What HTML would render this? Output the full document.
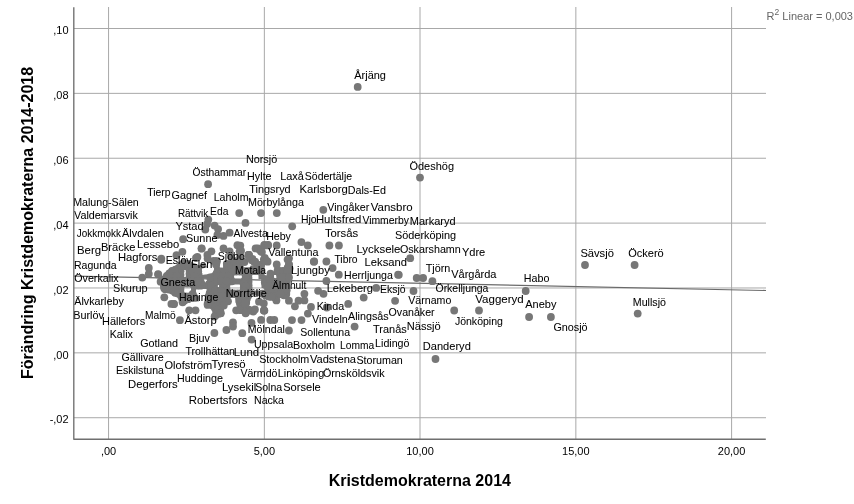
<!DOCTYPE html><html><head><meta charset="utf-8"><style>html,body{margin:0;padding:0;background:#fff;overflow:hidden}svg{display:block;will-change:transform}text{font-family:"Liberation Sans",Arial,sans-serif}</style></head><body>
<svg width="854" height="504" viewBox="0 0 854 504">
<rect width="854" height="504" fill="#fff"/>
<g stroke="#a8a8a8" stroke-width="1"><line x1="74" y1="28.5" x2="766" y2="28.5"/><line x1="74" y1="93.37" x2="766" y2="93.37"/><line x1="74" y1="158.24" x2="766" y2="158.24"/><line x1="74" y1="223.11" x2="766" y2="223.11"/><line x1="74" y1="287.98" x2="766" y2="287.98"/><line x1="74" y1="352.85" x2="766" y2="352.85"/><line x1="74" y1="417.72" x2="766" y2="417.72"/><line x1="108.57" y1="7" x2="108.57" y2="439"/><line x1="264.35" y1="7" x2="264.35" y2="439"/><line x1="420.0" y1="7" x2="420.0" y2="439"/><line x1="575.85" y1="7" x2="575.85" y2="439"/><line x1="731.6" y1="7" x2="731.6" y2="439"/></g>
<line x1="74" y1="276.1" x2="766" y2="290.5" stroke="#6a6a6a" stroke-width="1.1"/>
<g fill="#777777"><path fill-rule="evenodd" d="M161 279 L164 274 L168 270 L171 267.5 L176 266 L179 262.5 L182 259.5 L186 260 L189 262 L192 262.5 L195 264 L199 266 L203 263 L206 264 L207 267.5 L202 268.5 L201.5 271 L202 275 L205 274.5 L208 274.3 L212 274 L214 271 L214 265 L212 262 L212 259 L216 257.5 L219 258 L221 261 L219.8 262.5 L219.8 268.2 L223.6 268.2 L223.6 262.5 L225 261.3 L230 260.5 L232 261.5 L234 262.5 L236 261 L242.7 261 L242.7 267.8 L250.6 267.8 L250.6 265.5 L258 265.5 L262 266 L264 265.5 L264 274.5 L266 276 L270 275.5 L273.5 272 L275 268 L277 266.5 L280.5 268 L285.2 268 L285 264 L292 262 L293 268 L292.6 272.3 L289 276 L286.6 279.1 L289.5 281 L290 287 L290 292 L289 298 L284 299 L280 297 L278 300 L276 303 L272 299.5 L268 300 L265 299 L262 297 L258 296 L252 295 L250 300 L249 306 L245 308 L238 308 L236 303 L235.7 297.5 L226.2 297.5 L224 309 L222 316 L216 319 L212 316 L213 311 L210 307.5 L206.5 304.5 L204.8 300 L205.5 295 L207.5 289 L196 289 L196 294 L198.5 296 L198.8 301.5 L194 301 L190 302 L186 303.5 L183 305.5 L180 303 L178 297 L174 296 L170 293 L164 292.5 L162 291 L160.5 286 L160 282ZM183.8 269.3 L186.2 269.3 L186.2 277.6 L183.8 277.6ZM202.5 278.5 L208.5 278.5 L205.5 283.5ZM233.7 274.8 L242.3 274.8 L242.3 278.6 L233.7 278.6ZM217.3 284.6 L219.6 284.6 L219.6 287.6 L217.3 287.6ZM229.8 284.6 L240.5 284.6 L240.5 290 L229.8 290ZM183.8 286.8 L191 286.8 L191 293 L183.8 293ZM251.8 274.3 L258.5 274.3 L258.5 279 L261.5 279 L261.5 288 L265 288.2 L265 290.4 L252 290.4ZM274 275 L277 275 L277 278.7 L274 278.7Z"/><circle cx="163.4" cy="282.3" r="3.9"/><circle cx="163.9" cy="285.9" r="3.9"/><circle cx="165.2" cy="289.3" r="3.9"/><circle cx="168.8" cy="289.6" r="3.9"/><circle cx="172.3" cy="290.6" r="3.9"/><circle cx="175.2" cy="292.8" r="3.9"/><circle cx="178.7" cy="293.8" r="3.9"/><circle cx="181.2" cy="296.2" r="3.9"/><circle cx="182.4" cy="299.6" r="3.9"/><circle cx="184.6" cy="300.5" r="3.9"/><circle cx="188.0" cy="299.2" r="3.9"/><circle cx="191.6" cy="298.2" r="3.9"/><circle cx="195.1" cy="297.8" r="3.9"/><circle cx="192.9" cy="295.7" r="3.9"/><circle cx="189.3" cy="296.3" r="3.9"/><circle cx="185.7" cy="296.3" r="3.9"/><circle cx="182.1" cy="295.8" r="3.9"/><circle cx="180.5" cy="292.7" r="3.9"/><circle cx="180.5" cy="289.1" r="3.9"/><circle cx="180.8" cy="285.5" r="3.9"/><circle cx="183.6" cy="283.5" r="3.9"/><circle cx="187.3" cy="283.5" r="3.9"/><circle cx="190.9" cy="283.5" r="3.9"/><circle cx="193.9" cy="285.3" r="3.9"/><circle cx="196.8" cy="285.7" r="3.9"/><circle cx="200.5" cy="285.7" r="3.9"/><circle cx="202.4" cy="284.8" r="3.9"/><circle cx="200.6" cy="281.7" r="3.9"/><circle cx="199.2" cy="278.3" r="3.9"/><circle cx="198.7" cy="274.9" r="3.9"/><circle cx="198.2" cy="271.3" r="3.9"/><circle cx="197.0" cy="268.7" r="3.9"/><circle cx="193.7" cy="267.1" r="3.9"/><circle cx="190.4" cy="265.6" r="3.9"/><circle cx="186.9" cy="264.6" r="3.9"/><circle cx="183.7" cy="263.0" r="3.9"/><circle cx="181.0" cy="265.2" r="3.9"/><circle cx="178.6" cy="268.0" r="3.9"/><circle cx="175.4" cy="269.6" r="3.9"/><circle cx="172.1" cy="270.9" r="3.9"/><circle cx="169.3" cy="273.3" r="3.9"/><circle cx="166.8" cy="275.9" r="3.9"/><circle cx="164.8" cy="279.0" r="3.9"/><circle cx="189.5" cy="277.6" r="3.9"/><circle cx="187.5" cy="280.6" r="3.9"/><circle cx="183.7" cy="280.9" r="3.9"/><circle cx="180.7" cy="278.8" r="3.9"/><circle cx="180.5" cy="275.0" r="3.9"/><circle cx="180.5" cy="271.2" r="3.9"/><circle cx="181.0" cy="267.5" r="3.9"/><circle cx="184.4" cy="266.0" r="3.9"/><circle cx="188.1" cy="266.6" r="3.9"/><circle cx="189.5" cy="269.9" r="3.9"/><circle cx="189.5" cy="273.8" r="3.9"/><circle cx="211.6" cy="277.3" r="3.9"/><circle cx="211.0" cy="280.8" r="3.9"/><circle cx="209.1" cy="283.9" r="3.9"/><circle cx="209.3" cy="286.2" r="3.9"/><circle cx="210.8" cy="289.3" r="3.9"/><circle cx="209.7" cy="292.8" r="3.9"/><circle cx="208.6" cy="296.3" r="3.9"/><circle cx="208.3" cy="299.9" r="3.9"/><circle cx="209.9" cy="303.1" r="3.9"/><circle cx="212.6" cy="305.5" r="3.9"/><circle cx="215.0" cy="308.3" r="3.9"/><circle cx="216.3" cy="311.5" r="3.9"/><circle cx="216.0" cy="314.9" r="3.9"/><circle cx="219.2" cy="313.7" r="3.9"/><circle cx="220.2" cy="310.2" r="3.9"/><circle cx="221.1" cy="306.6" r="3.9"/><circle cx="221.8" cy="303.1" r="3.9"/><circle cx="222.5" cy="299.5" r="3.9"/><circle cx="223.3" cy="295.9" r="3.9"/><circle cx="226.3" cy="294.2" r="3.9"/><circle cx="229.9" cy="294.2" r="3.9"/><circle cx="233.6" cy="294.2" r="3.9"/><circle cx="237.2" cy="294.5" r="3.9"/><circle cx="239.0" cy="297.5" r="3.9"/><circle cx="239.2" cy="301.1" r="3.9"/><circle cx="240.2" cy="304.6" r="3.9"/><circle cx="243.7" cy="304.7" r="3.9"/><circle cx="246.2" cy="302.7" r="3.9"/><circle cx="246.8" cy="299.1" r="3.9"/><circle cx="248.2" cy="295.7" r="3.9"/><circle cx="249.4" cy="292.5" r="3.9"/><circle cx="248.7" cy="289.0" r="3.9"/><circle cx="248.6" cy="285.4" r="3.9"/><circle cx="248.6" cy="281.7" r="3.9"/><circle cx="248.5" cy="278.1" r="3.9"/><circle cx="248.5" cy="274.5" r="3.9"/><circle cx="250.2" cy="271.4" r="3.9"/><circle cx="253.7" cy="271.0" r="3.9"/><circle cx="257.4" cy="271.0" r="3.9"/><circle cx="260.7" cy="271.7" r="3.9"/><circle cx="259.6" cy="269.0" r="3.9"/><circle cx="256.0" cy="268.8" r="3.9"/><circle cx="253.1" cy="270.0" r="3.9"/><circle cx="249.7" cy="271.1" r="3.9"/><circle cx="246.1" cy="271.1" r="3.9"/><circle cx="242.5" cy="271.1" r="3.9"/><circle cx="239.7" cy="269.1" r="3.9"/><circle cx="239.4" cy="265.5" r="3.9"/><circle cx="237.0" cy="264.4" r="3.9"/><circle cx="233.7" cy="265.8" r="3.9"/><circle cx="230.4" cy="264.4" r="3.9"/><circle cx="226.9" cy="264.4" r="3.9"/><circle cx="226.9" cy="268.0" r="3.9"/><circle cx="225.2" cy="271.1" r="3.9"/><circle cx="221.7" cy="271.5" r="3.9"/><circle cx="218.1" cy="271.0" r="3.9"/><circle cx="216.8" cy="272.8" r="3.9"/><circle cx="214.7" cy="275.8" r="3.9"/><circle cx="231.8" cy="281.3" r="3.9"/><circle cx="230.4" cy="278.1" r="3.9"/><circle cx="230.4" cy="274.4" r="3.9"/><circle cx="232.6" cy="271.7" r="3.9"/><circle cx="236.2" cy="271.5" r="3.9"/><circle cx="239.9" cy="271.5" r="3.9"/><circle cx="243.5" cy="271.7" r="3.9"/><circle cx="245.6" cy="274.6" r="3.9"/><circle cx="245.6" cy="278.2" r="3.9"/><circle cx="244.1" cy="281.4" r="3.9"/><circle cx="243.5" cy="283.3" r="3.9"/><circle cx="243.8" cy="287.0" r="3.9"/><circle cx="243.7" cy="290.6" r="3.9"/><circle cx="241.4" cy="293.2" r="3.9"/><circle cx="237.7" cy="293.3" r="3.9"/><circle cx="234.0" cy="293.3" r="3.9"/><circle cx="230.4" cy="293.3" r="3.9"/><circle cx="227.1" cy="291.9" r="3.9"/><circle cx="226.5" cy="288.4" r="3.9"/><circle cx="226.5" cy="284.7" r="3.9"/><circle cx="228.2" cy="281.7" r="3.9"/><circle cx="222.9" cy="287.6" r="3.9"/><circle cx="220.8" cy="290.7" r="3.9"/><circle cx="217.0" cy="290.9" r="3.9"/><circle cx="214.1" cy="288.5" r="3.9"/><circle cx="214.0" cy="284.6" r="3.9"/><circle cx="216.1" cy="281.5" r="3.9"/><circle cx="219.9" cy="281.3" r="3.9"/><circle cx="222.8" cy="283.7" r="3.9"/><circle cx="216.5" cy="262.8" r="3.9"/><circle cx="216.8" cy="261.1" r="3.9"/><circle cx="215.5" cy="261.3" r="3.9"/><circle cx="262.4" cy="293.7" r="3.9"/><circle cx="265.6" cy="295.4" r="3.9"/><circle cx="268.9" cy="296.6" r="3.9"/><circle cx="272.5" cy="296.2" r="3.9"/><circle cx="275.4" cy="297.9" r="3.9"/><circle cx="277.4" cy="294.9" r="3.9"/><circle cx="280.7" cy="293.8" r="3.9"/><circle cx="283.9" cy="295.3" r="3.9"/><circle cx="286.3" cy="293.9" r="3.9"/><circle cx="286.7" cy="290.3" r="3.9"/><circle cx="286.7" cy="286.7" r="3.9"/><circle cx="286.4" cy="283.1" r="3.9"/><circle cx="283.8" cy="280.8" r="3.9"/><circle cx="283.8" cy="277.3" r="3.9"/><circle cx="286.0" cy="274.5" r="3.9"/><circle cx="288.4" cy="271.8" r="3.9"/><circle cx="289.6" cy="268.6" r="3.9"/><circle cx="288.4" cy="266.6" r="3.9"/><circle cx="287.8" cy="270.1" r="3.9"/><circle cx="284.5" cy="271.3" r="3.9"/><circle cx="280.9" cy="271.3" r="3.9"/><circle cx="277.6" cy="270.5" r="3.9"/><circle cx="279.2" cy="272.6" r="3.9"/><circle cx="280.3" cy="275.9" r="3.9"/><circle cx="280.2" cy="279.5" r="3.9"/><circle cx="277.8" cy="281.9" r="3.9"/><circle cx="274.2" cy="282.0" r="3.9"/><circle cx="271.2" cy="280.4" r="3.9"/><circle cx="268.8" cy="279.0" r="3.9"/><circle cx="265.3" cy="279.2" r="3.9"/><circle cx="264.8" cy="282.2" r="3.9"/><circle cx="265.7" cy="285.0" r="3.9"/><circle cx="268.2" cy="287.4" r="3.9"/><circle cx="268.2" cy="291.0" r="3.9"/><circle cx="266.0" cy="293.5" r="3.9"/><circle cx="182.4" cy="265.9" r="3.9"/><circle cx="188.2" cy="265.9" r="3.9"/><circle cx="228.5" cy="265.9" r="3.9"/><circle cx="234.3" cy="265.9" r="3.9"/><circle cx="174.9" cy="271.0" r="3.9"/><circle cx="192.2" cy="271.0" r="3.9"/><circle cx="197.9" cy="271.0" r="3.9"/><circle cx="226.7" cy="271.0" r="3.9"/><circle cx="232.5" cy="271.0" r="3.9"/><circle cx="238.2" cy="271.0" r="3.9"/><circle cx="255.5" cy="271.0" r="3.9"/><circle cx="278.6" cy="271.0" r="3.9"/><circle cx="170.9" cy="276.0" r="3.9"/><circle cx="176.7" cy="276.0" r="3.9"/><circle cx="194.0" cy="276.0" r="3.9"/><circle cx="217.0" cy="276.0" r="3.9"/><circle cx="222.8" cy="276.0" r="3.9"/><circle cx="228.5" cy="276.0" r="3.9"/><circle cx="245.8" cy="276.0" r="3.9"/><circle cx="280.4" cy="276.0" r="3.9"/><circle cx="169.1" cy="281.1" r="3.9"/><circle cx="174.9" cy="281.1" r="3.9"/><circle cx="180.6" cy="281.1" r="3.9"/><circle cx="186.4" cy="281.1" r="3.9"/><circle cx="192.2" cy="281.1" r="3.9"/><circle cx="197.9" cy="281.1" r="3.9"/><circle cx="215.2" cy="281.1" r="3.9"/><circle cx="221.0" cy="281.1" r="3.9"/><circle cx="226.7" cy="281.1" r="3.9"/><circle cx="267.0" cy="281.1" r="3.9"/><circle cx="165.2" cy="286.1" r="3.9"/><circle cx="170.9" cy="286.1" r="3.9"/><circle cx="176.7" cy="286.1" r="3.9"/><circle cx="211.2" cy="286.1" r="3.9"/><circle cx="245.8" cy="286.1" r="3.9"/><circle cx="268.8" cy="286.1" r="3.9"/><circle cx="274.6" cy="286.1" r="3.9"/><circle cx="280.4" cy="286.1" r="3.9"/><circle cx="286.1" cy="286.1" r="3.9"/><circle cx="174.9" cy="291.1" r="3.9"/><circle cx="215.2" cy="291.1" r="3.9"/><circle cx="221.0" cy="291.1" r="3.9"/><circle cx="244.0" cy="291.1" r="3.9"/><circle cx="272.8" cy="291.1" r="3.9"/><circle cx="278.6" cy="291.1" r="3.9"/><circle cx="284.3" cy="291.1" r="3.9"/><circle cx="182.4" cy="296.2" r="3.9"/><circle cx="211.2" cy="296.2" r="3.9"/><circle cx="217.0" cy="296.2" r="3.9"/><circle cx="222.8" cy="296.2" r="3.9"/><circle cx="240.0" cy="296.2" r="3.9"/><circle cx="245.8" cy="296.2" r="3.9"/><circle cx="268.8" cy="296.2" r="3.9"/><circle cx="274.6" cy="296.2" r="3.9"/><circle cx="209.4" cy="301.2" r="3.9"/><circle cx="215.2" cy="301.2" r="3.9"/><circle cx="221.0" cy="301.2" r="3.9"/><circle cx="244.0" cy="301.2" r="3.9"/><circle cx="217.0" cy="306.3" r="3.9"/><circle cx="357.7" cy="86.9" r="3.9"/><circle cx="420.0" cy="177.6" r="3.9"/><circle cx="208.1" cy="184.2" r="3.9"/><circle cx="239.2" cy="213.1" r="3.9"/><circle cx="261.0" cy="213.1" r="3.9"/><circle cx="276.8" cy="213.1" r="3.9"/><circle cx="323.3" cy="209.8" r="3.9"/><circle cx="245.5" cy="222.9" r="3.9"/><circle cx="292.2" cy="226.3" r="3.9"/><circle cx="410.2" cy="258.2" r="3.9"/><circle cx="398.1" cy="274.7" r="3.9"/><circle cx="416.7" cy="278.0" r="3.9"/><circle cx="423.1" cy="278.0" r="3.9"/><circle cx="432.4" cy="281.2" r="3.9"/><circle cx="413.5" cy="291.0" r="3.9"/><circle cx="395.1" cy="300.8" r="3.9"/><circle cx="454.2" cy="310.5" r="3.9"/><circle cx="479.0" cy="310.5" r="3.9"/><circle cx="525.7" cy="291.0" r="3.9"/><circle cx="529.1" cy="317.0" r="3.9"/><circle cx="550.9" cy="317.0" r="3.9"/><circle cx="585.0" cy="265.0" r="3.9"/><circle cx="634.6" cy="265.0" r="3.9"/><circle cx="637.7" cy="313.6" r="3.9"/><circle cx="435.5" cy="359.0" r="3.9"/><circle cx="354.6" cy="326.6" r="3.9"/><circle cx="363.7" cy="297.6" r="3.9"/><circle cx="348.2" cy="303.9" r="3.9"/><circle cx="376.2" cy="287.9" r="3.9"/><circle cx="338.8" cy="274.7" r="3.9"/><circle cx="326.4" cy="281.0" r="3.9"/><circle cx="398.8" cy="274.8" r="3.9"/><circle cx="329.4" cy="245.5" r="3.9"/><circle cx="338.9" cy="245.5" r="3.9"/><circle cx="314.2" cy="261.5" r="3.9"/><circle cx="326.4" cy="261.5" r="3.9"/><circle cx="332.6" cy="268.1" r="3.9"/><circle cx="301.4" cy="242.1" r="3.9"/><circle cx="307.8" cy="245.5" r="3.9"/><circle cx="276.7" cy="245.5" r="3.9"/><circle cx="313.8" cy="261.7" r="3.9"/><circle cx="289.0" cy="258.3" r="3.9"/><circle cx="289.0" cy="265.0" r="3.9"/><circle cx="276.7" cy="264.5" r="3.9"/><circle cx="161.3" cy="258.6" r="3.9"/><circle cx="148.8" cy="267.9" r="3.9"/><circle cx="148.8" cy="273.8" r="3.9"/><circle cx="142.3" cy="277.6" r="3.9"/><circle cx="158.1" cy="274.1" r="3.9"/><circle cx="162.3" cy="279.8" r="3.9"/><circle cx="164.3" cy="297.3" r="3.9"/><circle cx="171.4" cy="303.9" r="3.9"/><circle cx="183.1" cy="239.2" r="3.9"/><circle cx="182.4" cy="251.8" r="3.9"/><circle cx="176.5" cy="255.2" r="3.9"/><circle cx="201.5" cy="248.6" r="3.9"/><circle cx="179.9" cy="320.2" r="3.9"/><circle cx="189.2" cy="310.3" r="3.9"/><circle cx="195.5" cy="310.3" r="3.9"/><circle cx="214.4" cy="333.0" r="3.9"/><circle cx="226.4" cy="330.0" r="3.9"/><circle cx="233.0" cy="322.5" r="3.9"/><circle cx="233.0" cy="326.5" r="3.9"/><circle cx="242.3" cy="333.2" r="3.9"/><circle cx="251.6" cy="339.6" r="3.9"/><circle cx="251.5" cy="322.9" r="3.9"/><circle cx="261.1" cy="319.9" r="3.9"/><circle cx="236.2" cy="310.3" r="3.9"/><circle cx="245.6" cy="313.3" r="3.9"/><circle cx="253.3" cy="311.5" r="3.9"/><circle cx="264.0" cy="310.4" r="3.9"/><circle cx="214.6" cy="316.5" r="3.9"/><circle cx="220.5" cy="313.2" r="3.9"/><circle cx="173.9" cy="304.1" r="3.9"/><circle cx="182.9" cy="301.2" r="3.9"/><circle cx="288.9" cy="330.5" r="3.9"/><circle cx="270.3" cy="320.0" r="3.9"/><circle cx="274.3" cy="320.0" r="3.9"/><circle cx="292.0" cy="320.1" r="3.9"/><circle cx="301.5" cy="320.1" r="3.9"/><circle cx="307.9" cy="313.6" r="3.9"/><circle cx="304.4" cy="293.8" r="3.9"/><circle cx="318.1" cy="290.8" r="3.9"/><circle cx="323.5" cy="293.8" r="3.9"/><circle cx="288.9" cy="300.7" r="3.9"/><circle cx="298.5" cy="300.7" r="3.9"/><circle cx="304.4" cy="300.4" r="3.9"/><circle cx="311.0" cy="306.9" r="3.9"/><circle cx="294.9" cy="306.3" r="3.9"/><circle cx="263.9" cy="310.5" r="3.9"/><circle cx="276.4" cy="300.4" r="3.9"/><circle cx="270.5" cy="273.6" r="3.9"/><circle cx="326.8" cy="307.5" r="3.9"/><circle cx="207.1" cy="224.1" r="3.9"/><circle cx="205.3" cy="229.5" r="3.9"/><circle cx="214.6" cy="225.6" r="3.9"/><circle cx="218.1" cy="229.1" r="3.9"/><circle cx="217.4" cy="234.9" r="3.9"/><circle cx="223.5" cy="235.9" r="3.9"/><circle cx="229.6" cy="232.7" r="3.9"/><circle cx="201.7" cy="248.4" r="3.9"/><circle cx="211.4" cy="251.3" r="3.9"/><circle cx="207.4" cy="254.9" r="3.9"/><circle cx="223.5" cy="248.4" r="3.9"/><circle cx="229.6" cy="251.3" r="3.9"/><circle cx="237.4" cy="245.2" r="3.9"/><circle cx="240.3" cy="245.6" r="3.9"/><circle cx="239.6" cy="251.3" r="3.9"/><circle cx="248.9" cy="254.9" r="3.9"/><circle cx="255.6" cy="248.4" r="3.9"/><circle cx="197.4" cy="257.0" r="3.9"/><circle cx="208.3" cy="219.6" r="3.9"/><circle cx="264.3" cy="245.5" r="3.9"/><circle cx="268.1" cy="245.0" r="3.9"/><circle cx="258.1" cy="248.8" r="3.9"/><circle cx="261.9" cy="252.1" r="3.9"/><circle cx="249.0" cy="255.0" r="3.9"/><circle cx="252.4" cy="258.8" r="3.9"/><circle cx="255.2" cy="261.7" r="3.9"/><circle cx="264.8" cy="257.9" r="3.9"/><circle cx="267.6" cy="261.7" r="3.9"/><circle cx="261.0" cy="265.0" r="3.9"/><circle cx="241.0" cy="250.7" r="3.9"/><circle cx="161.2" cy="259.8" r="3.9"/><circle cx="160.6" cy="281.7" r="3.9"/><circle cx="158.3" cy="274.6" r="3.9"/><circle cx="163" cy="281" r="3.9"/><circle cx="183.5" cy="264" r="3.9"/><circle cx="188" cy="264" r="3.9"/><circle cx="196" cy="258" r="3.9"/><circle cx="207.6" cy="258.5" r="3.9"/><circle cx="210.1" cy="277.5" r="3.9"/><circle cx="213.7" cy="260.8" r="3.9"/><circle cx="216" cy="264.5" r="3.9"/><circle cx="227.6" cy="266" r="3.9"/><circle cx="226.8" cy="263.8" r="3.9"/><circle cx="231" cy="265" r="3.9"/><circle cx="231" cy="257" r="3.9"/><circle cx="234" cy="261" r="3.9"/><circle cx="236" cy="266" r="3.9"/><circle cx="240" cy="257" r="3.9"/><circle cx="240" cy="262.5" r="3.9"/><circle cx="240" cy="268" r="3.9"/><circle cx="244.5" cy="262" r="3.9"/><circle cx="248.3" cy="254.9" r="3.9"/><circle cx="250.1" cy="257.9" r="3.9"/><circle cx="251.9" cy="260.2" r="3.9"/><circle cx="254.3" cy="262" r="3.9"/><circle cx="257.9" cy="248.3" r="3.9"/><circle cx="260.8" cy="251.3" r="3.9"/><circle cx="264.4" cy="244.8" r="3.9"/><circle cx="268" cy="245.4" r="3.9"/><circle cx="260.8" cy="265" r="3.9"/><circle cx="263.8" cy="259.6" r="3.9"/><circle cx="266.8" cy="260.8" r="3.9"/><circle cx="287.6" cy="259.6" r="3.9"/><circle cx="287.6" cy="268" r="3.9"/><circle cx="288.9" cy="264.3" r="3.9"/><circle cx="283" cy="270.8" r="3.9"/><circle cx="287.7" cy="271.4" r="3.9"/><circle cx="282.4" cy="276.8" r="3.9"/><circle cx="289" cy="277.4" r="3.9"/><circle cx="192.7" cy="293.9" r="3.9"/><circle cx="192.8" cy="295.5" r="3.9"/><circle cx="207.6" cy="304" r="3.9"/><circle cx="207.7" cy="304.9" r="3.9"/><circle cx="228" cy="301.3" r="3.9"/><circle cx="223.8" cy="305.5" r="3.9"/><circle cx="217.9" cy="309.6" r="3.9"/><circle cx="220.8" cy="313.2" r="3.9"/><circle cx="240.5" cy="299.5" r="3.9"/><circle cx="245.2" cy="304.3" r="3.9"/><circle cx="240.5" cy="310.2" r="3.9"/><circle cx="248.8" cy="309.6" r="3.9"/><circle cx="241.8" cy="309.4" r="3.9"/><circle cx="246" cy="312.4" r="3.9"/><circle cx="251.3" cy="310.6" r="3.9"/><circle cx="254.9" cy="309.4" r="3.9"/><circle cx="244.8" cy="303.5" r="3.9"/><circle cx="259" cy="301.7" r="3.9"/><circle cx="263.8" cy="303.5" r="3.9"/><circle cx="264.4" cy="310.6" r="3.9"/><circle cx="271.5" cy="296.9" r="3.9"/><circle cx="280.5" cy="294" r="3.9"/><circle cx="164.2" cy="288.3" r="3.9"/><circle cx="169.5" cy="288.6" r="3.9"/><circle cx="177.9" cy="293.3" r="3.9"/><circle cx="174" cy="304" r="3.9"/><circle cx="182.6" cy="302.3" r="3.9"/></g>
<g font-size="11" fill="#000" stroke="#000" stroke-width="0.05"><text x="354.3" y="78.9" textLength="31.6" lengthAdjust="spacingAndGlyphs">Årjäng</text><text x="409.5" y="169.5" textLength="44.5" lengthAdjust="spacingAndGlyphs">Ödeshög</text><text x="245.9" y="162.6" textLength="31.3" lengthAdjust="spacingAndGlyphs">Norsjö</text><text x="192.6" y="175.7" textLength="53.6" lengthAdjust="spacingAndGlyphs">Östhammar</text><text x="247.1" y="179.5" textLength="24.5" lengthAdjust="spacingAndGlyphs">Hylte</text><text x="280.2" y="179.5" textLength="23.7" lengthAdjust="spacingAndGlyphs">Laxå</text><text x="304.8" y="179.5" textLength="47.3" lengthAdjust="spacingAndGlyphs">Södertälje</text><text x="147.2" y="195.7" textLength="23.4" lengthAdjust="spacingAndGlyphs">Tierp</text><text x="171.5" y="198.7" textLength="35.4" lengthAdjust="spacingAndGlyphs">Gagnef</text><text x="213.7" y="200.5" textLength="34.8" lengthAdjust="spacingAndGlyphs">Laholm</text><text x="249.3" y="193.2" textLength="41.4" lengthAdjust="spacingAndGlyphs">Tingsryd</text><text x="299.5" y="193.2" textLength="48.3" lengthAdjust="spacingAndGlyphs">Karlsborg</text><text x="347.7" y="194.3" textLength="38.2" lengthAdjust="spacingAndGlyphs">Dals-Ed</text><text x="73.2" y="205.6" textLength="65.6" lengthAdjust="spacingAndGlyphs">Malung-Sälen</text><text x="248.0" y="206.4" textLength="55.9" lengthAdjust="spacingAndGlyphs">Mörbylånga</text><text x="327.3" y="210.6" textLength="41.9" lengthAdjust="spacingAndGlyphs">Vingåker</text><text x="370.8" y="210.6" textLength="41.8" lengthAdjust="spacingAndGlyphs">Vansbro</text><text x="74.1" y="218.7" textLength="63.8" lengthAdjust="spacingAndGlyphs">Valdemarsvik</text><text x="177.9" y="216.5" textLength="30.2" lengthAdjust="spacingAndGlyphs">Rättvik</text><text x="210.1" y="214.5" textLength="18.3" lengthAdjust="spacingAndGlyphs">Eda</text><text x="300.9" y="222.9" textLength="15.7" lengthAdjust="spacingAndGlyphs">Hjo</text><text x="315.9" y="222.9" textLength="45.5" lengthAdjust="spacingAndGlyphs">Hultsfred</text><text x="362.4" y="224.0" textLength="46.6" lengthAdjust="spacingAndGlyphs">Vimmerby</text><text x="409.8" y="225.2" textLength="45.8" lengthAdjust="spacingAndGlyphs">Markaryd</text><text x="175.4" y="229.5" textLength="28.2" lengthAdjust="spacingAndGlyphs">Ystad</text><text x="233.4" y="237.4" textLength="34.4" lengthAdjust="spacingAndGlyphs">Alvesta</text><text x="266.2" y="240.4" textLength="24.7" lengthAdjust="spacingAndGlyphs">Heby</text><text x="324.9" y="237.4" textLength="33.3" lengthAdjust="spacingAndGlyphs">Torsås</text><text x="395.0" y="239.2" textLength="61.1" lengthAdjust="spacingAndGlyphs">Söderköping</text><text x="76.8" y="236.5" textLength="44.1" lengthAdjust="spacingAndGlyphs">Jokkmokk</text><text x="122.1" y="236.5" textLength="41.7" lengthAdjust="spacingAndGlyphs">Älvdalen</text><text x="186.1" y="242.3" textLength="31.4" lengthAdjust="spacingAndGlyphs">Sunne</text><text x="356.4" y="252.6" textLength="44.0" lengthAdjust="spacingAndGlyphs">Lycksele</text><text x="399.9" y="252.5" textLength="60.9" lengthAdjust="spacingAndGlyphs">Oskarshamn</text><text x="461.9" y="256.3" textLength="23.4" lengthAdjust="spacingAndGlyphs">Ydre</text><text x="77.0" y="254.2" textLength="24.1" lengthAdjust="spacingAndGlyphs">Berg</text><text x="100.9" y="250.6" textLength="34.6" lengthAdjust="spacingAndGlyphs">Bräcke</text><text x="137.1" y="248.2" textLength="42.2" lengthAdjust="spacingAndGlyphs">Lessebo</text><text x="268.3" y="255.5" textLength="50.1" lengthAdjust="spacingAndGlyphs">Vallentuna</text><text x="334.4" y="262.7" textLength="23.2" lengthAdjust="spacingAndGlyphs">Tibro</text><text x="364.6" y="265.6" textLength="42.4" lengthAdjust="spacingAndGlyphs">Leksand</text><text x="117.9" y="261.1" textLength="39.5" lengthAdjust="spacingAndGlyphs">Hagfors</text><text x="165.7" y="264.3" textLength="26.0" lengthAdjust="spacingAndGlyphs">Eslöv</text><text x="217.8" y="259.5" textLength="27.0" lengthAdjust="spacingAndGlyphs">Sjöbo</text><text x="74.0" y="268.5" textLength="42.7" lengthAdjust="spacingAndGlyphs">Ragunda</text><text x="191.0" y="267.9" textLength="21.3" lengthAdjust="spacingAndGlyphs">Flen</text><text x="235.0" y="274.2" textLength="31.1" lengthAdjust="spacingAndGlyphs">Motala</text><text x="290.9" y="273.5" textLength="38.8" lengthAdjust="spacingAndGlyphs">Ljungby</text><text x="344.0" y="278.8" textLength="48.9" lengthAdjust="spacingAndGlyphs">Herrljunga</text><text x="425.7" y="271.7" textLength="24.6" lengthAdjust="spacingAndGlyphs">Tjörn</text><text x="451.2" y="277.5" textLength="45.3" lengthAdjust="spacingAndGlyphs">Vårgårda</text><text x="74.3" y="281.7" textLength="44.4" lengthAdjust="spacingAndGlyphs">Överkalix</text><text x="160.5" y="285.5" textLength="34.7" lengthAdjust="spacingAndGlyphs">Gnesta</text><text x="272.3" y="288.5" textLength="34.1" lengthAdjust="spacingAndGlyphs">Älmhult</text><text x="326.7" y="292.0" textLength="46.3" lengthAdjust="spacingAndGlyphs">Lekeberg</text><text x="380.0" y="292.5" textLength="25.5" lengthAdjust="spacingAndGlyphs">Eksjö</text><text x="435.5" y="291.7" textLength="52.9" lengthAdjust="spacingAndGlyphs">Örkelljunga</text><text x="523.8" y="282.4" textLength="25.6" lengthAdjust="spacingAndGlyphs">Habo</text><text x="113.1" y="292.0" textLength="34.6" lengthAdjust="spacingAndGlyphs">Skurup</text><text x="225.7" y="296.8" textLength="41.0" lengthAdjust="spacingAndGlyphs">Norrtälje</text><text x="178.9" y="301.2" textLength="39.4" lengthAdjust="spacingAndGlyphs">Haninge</text><text x="408.3" y="304.2" textLength="43.0" lengthAdjust="spacingAndGlyphs">Värnamo</text><text x="525.3" y="307.7" textLength="31.1" lengthAdjust="spacingAndGlyphs">Aneby</text><text x="632.8" y="306.1" textLength="33.2" lengthAdjust="spacingAndGlyphs">Mullsjö</text><text x="580.4" y="257.0" textLength="33.5" lengthAdjust="spacingAndGlyphs">Sävsjö</text><text x="628.2" y="257.0" textLength="35.5" lengthAdjust="spacingAndGlyphs">Öckerö</text><text x="74.3" y="304.5" textLength="49.5" lengthAdjust="spacingAndGlyphs">Älvkarleby</text><text x="316.8" y="310.2" textLength="27.4" lengthAdjust="spacingAndGlyphs">Kinda</text><text x="388.6" y="316.1" textLength="46.0" lengthAdjust="spacingAndGlyphs">Ovanåker</text><text x="475.3" y="303.0" textLength="48.4" lengthAdjust="spacingAndGlyphs">Vaggeryd</text><text x="73.2" y="318.8" textLength="30.7" lengthAdjust="spacingAndGlyphs">Burlöv</text><text x="145.1" y="319.2" textLength="30.7" lengthAdjust="spacingAndGlyphs">Malmö</text><text x="184.4" y="324.2" textLength="32.4" lengthAdjust="spacingAndGlyphs">Åstorp</text><text x="102.0" y="324.8" textLength="43.2" lengthAdjust="spacingAndGlyphs">Hällefors</text><text x="312.1" y="323.2" textLength="35.7" lengthAdjust="spacingAndGlyphs">Vindeln</text><text x="348.1" y="319.8" textLength="40.5" lengthAdjust="spacingAndGlyphs">Alingsås</text><text x="454.9" y="324.5" textLength="48.0" lengthAdjust="spacingAndGlyphs">Jönköping</text><text x="553.4" y="330.5" textLength="34.2" lengthAdjust="spacingAndGlyphs">Gnosjö</text><text x="109.8" y="337.6" textLength="23.0" lengthAdjust="spacingAndGlyphs">Kalix</text><text x="189.0" y="342.0" textLength="20.9" lengthAdjust="spacingAndGlyphs">Bjuv</text><text x="247.8" y="333.4" textLength="37.1" lengthAdjust="spacingAndGlyphs">Mölndal</text><text x="300.3" y="336.1" textLength="49.8" lengthAdjust="spacingAndGlyphs">Sollentuna</text><text x="373.1" y="333.3" textLength="33.6" lengthAdjust="spacingAndGlyphs">Tranås</text><text x="406.8" y="330.4" textLength="33.9" lengthAdjust="spacingAndGlyphs">Nässjö</text><text x="140.2" y="347.0" textLength="37.8" lengthAdjust="spacingAndGlyphs">Gotland</text><text x="253.9" y="347.6" textLength="39.2" lengthAdjust="spacingAndGlyphs">Uppsala</text><text x="293.0" y="349.3" textLength="42.1" lengthAdjust="spacingAndGlyphs">Boxholm</text><text x="340.1" y="349.2" textLength="34.1" lengthAdjust="spacingAndGlyphs">Lomma</text><text x="375.1" y="347.2" textLength="34.4" lengthAdjust="spacingAndGlyphs">Lidingö</text><text x="422.8" y="350.4" textLength="48.0" lengthAdjust="spacingAndGlyphs">Danderyd</text><text x="121.6" y="360.5" textLength="42.0" lengthAdjust="spacingAndGlyphs">Gällivare</text><text x="185.4" y="354.5" textLength="49.5" lengthAdjust="spacingAndGlyphs">Trollhättan</text><text x="233.7" y="355.5" textLength="25.5" lengthAdjust="spacingAndGlyphs">Lund</text><text x="259.2" y="363.0" textLength="50.1" lengthAdjust="spacingAndGlyphs">Stockholm</text><text x="309.9" y="363.0" textLength="46.1" lengthAdjust="spacingAndGlyphs">Vadstena</text><text x="356.4" y="363.5" textLength="46.4" lengthAdjust="spacingAndGlyphs">Storuman</text><text x="115.9" y="373.5" textLength="48.0" lengthAdjust="spacingAndGlyphs">Eskilstuna</text><text x="164.5" y="368.5" textLength="47.8" lengthAdjust="spacingAndGlyphs">Olofström</text><text x="211.5" y="368.0" textLength="34.2" lengthAdjust="spacingAndGlyphs">Tyresö</text><text x="240.4" y="377.0" textLength="37.1" lengthAdjust="spacingAndGlyphs">Värmdö</text><text x="277.7" y="377.0" textLength="46.5" lengthAdjust="spacingAndGlyphs">Linköping</text><text x="322.9" y="376.7" textLength="61.7" lengthAdjust="spacingAndGlyphs">Örnsköldsvik</text><text x="177.0" y="382.2" textLength="45.9" lengthAdjust="spacingAndGlyphs">Huddinge</text><text x="128.0" y="387.6" textLength="49.6" lengthAdjust="spacingAndGlyphs">Degerfors</text><text x="221.9" y="390.6" textLength="34.3" lengthAdjust="spacingAndGlyphs">Lysekil</text><text x="255.2" y="390.6" textLength="26.9" lengthAdjust="spacingAndGlyphs">Solna</text><text x="283.2" y="390.6" textLength="37.6" lengthAdjust="spacingAndGlyphs">Sorsele</text><text x="188.8" y="403.5" textLength="58.6" lengthAdjust="spacingAndGlyphs">Robertsfors</text><text x="254.0" y="403.5" textLength="30.0" lengthAdjust="spacingAndGlyphs">Nacka</text></g>
<path d="M73.8 7.2 L73.8 439.2 L765.8 439.2" fill="none" stroke="#6f6f6f" stroke-width="1.35" stroke-linejoin="round"/>
<g font-size="11" fill="#000"><text x="68.6" y="34.1" text-anchor="end">,10</text><text x="68.6" y="99.0" text-anchor="end">,08</text><text x="68.6" y="163.8" text-anchor="end">,06</text><text x="68.6" y="228.7" text-anchor="end">,04</text><text x="68.6" y="293.6" text-anchor="end">,02</text><text x="68.6" y="358.5" text-anchor="end">,00</text><text x="68.6" y="423.3" text-anchor="end">-,02</text><text x="108.57" y="455.2" text-anchor="middle">,00</text><text x="264.35" y="455.2" text-anchor="middle">5,00</text><text x="420.0" y="455.2" text-anchor="middle">10,00</text><text x="575.85" y="455.2" text-anchor="middle">15,00</text><text x="731.6" y="455.2" text-anchor="middle">20,00</text></g>
<text x="419.8" y="485.5" text-anchor="middle" font-size="16" font-weight="bold">Kristdemokraterna 2014</text>
<text transform="translate(32.6,222.9) rotate(-90)" text-anchor="middle" font-size="16" font-weight="bold">Förändring Kristdemokraterna 2014-2018</text>
<text x="766.6" y="20" font-size="11" fill="#666">R<tspan font-size="8.5" dy="-5.5">2</tspan><tspan dy="5.5"> Linear = 0,003</tspan></text>
</svg></body></html>
